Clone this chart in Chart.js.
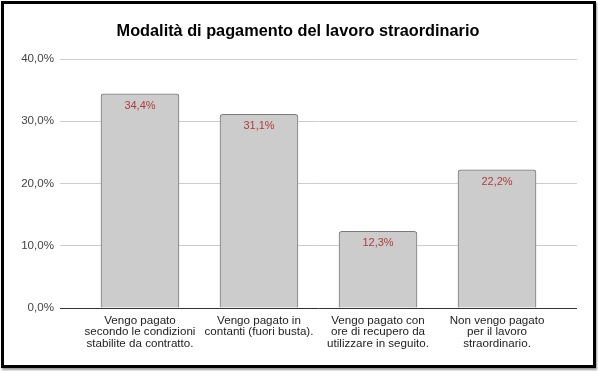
<!DOCTYPE html>
<html>
<head>
<meta charset="utf-8">
<script src="https://cdn.jsdelivr.net/npm/chart.js@4"></script>
<style>
  html, body { margin: 0; padding: 0; background: #fff; }
  #wrap { position: relative; width: 598px; height: 371px; }
  #frame {
    position: absolute; left: 1px; top: 1px; width: 595px; height: 367px;
    box-sizing: border-box; border: 3px solid #000; pointer-events: none;
    box-shadow: 1px 2px 2px #999;
  }
  canvas { position: absolute; left: 0; top: 0; }
</style>
</head>
<body>
<div id="wrap">
  <canvas id="chart" width="598" height="371"></canvas>
  <div id="frame"></div>
</div>
<script>
const title = "Modalità di pagamento del lavoro straordinario";
const categories = [
  ["Vengo pagato", "secondo le condizioni", "stabilite da contratto."],
  ["Vengo pagato in", "contanti (fuori busta)."],
  ["Vengo pagato con", "ore di recupero da", "utilizzare in seguito."],
  ["Non vengo pagato", "per il lavoro", "straordinario."]
];
const values = [34.4, 31.1, 12.3, 22.2];
const yTicks = [0, 10, 20, 30, 40];

const fmt = v => v.toFixed(1).replace(".", ",") + "%";
const FONT = "'Liberation Sans', Arial, sans-serif";

const valueLabels = {
  id: "valueLabels",
  afterDatasetsDraw(chart) {
    const ctx = chart.ctx;
    const meta = chart.getDatasetMeta(0);
    ctx.save();
    ctx.font = "11px " + FONT;
    ctx.fillStyle = "#b23b3b";
    ctx.textAlign = "center";
    ctx.textBaseline = "middle";
    meta.data.forEach((bar, i) => {
      ctx.fillText(fmt(values[i]), bar.x, bar.y + 12);
    });
    ctx.restore();
  }
};

new Chart(document.getElementById("chart"), {
  type: "bar",
  data: {
    datasets: [{
      data: values.map((v, i) => ({ x: i, y: v })),
      backgroundColor: "#cccccc",
      borderColor: "#7a7a7a",
      borderWidth: 1,
      borderSkipped: "bottom",
      borderRadius: 3,
      barThickness: 78
    }]
  },
  options: {
    responsive: false,
    animation: false,
    layout: { padding: { left: 19, right: 21, top: 0, bottom: 0 } },
    plugins: {
      legend: { display: false },
      tooltip: { enabled: false },
      title: {
        display: true,
        text: title,
        color: "#000",
        font: { family: FONT, size: 16.3, weight: "bold", lineHeight: 1.2 },
        padding: { top: 22, bottom: 17.5 }
      }
    },
    scales: {
      x: {
        type: "linear",
        offset: false,
        min: -0.672,
        max: 3.672,
        afterBuildTicks: s => { s.ticks = categories.map((c, i) => ({ value: i })); },
        afterFit: s => { s.height = 63; },
        grid: { display: false },
        border: { display: false },
        ticks: {
          autoSkip: false,
          maxRotation: 0,
          padding: -1,
          color: "#222",
          font: { family: FONT, size: 11.6, lineHeight: 0.98 },
          callback: v => categories[v]
        }
      },
      y: {
        min: 0,
        max: 40,
        afterBuildTicks: s => { s.ticks = yTicks.map(v => ({ value: v })); },
        afterFit: s => { s.width = 41; },
        grid: {
          color: c => c.tick && c.tick.value === 0 ? "#333333" : "#cccccc",
          drawTicks: false
        },
        border: { display: false },
        ticks: {
          padding: 6,
          color: "#444",
          font: { family: FONT, size: 11.6 },
          callback: v => fmt(v)
        }
      }
    }
  },
  plugins: [valueLabels]
});
</script>
</body>
</html>
